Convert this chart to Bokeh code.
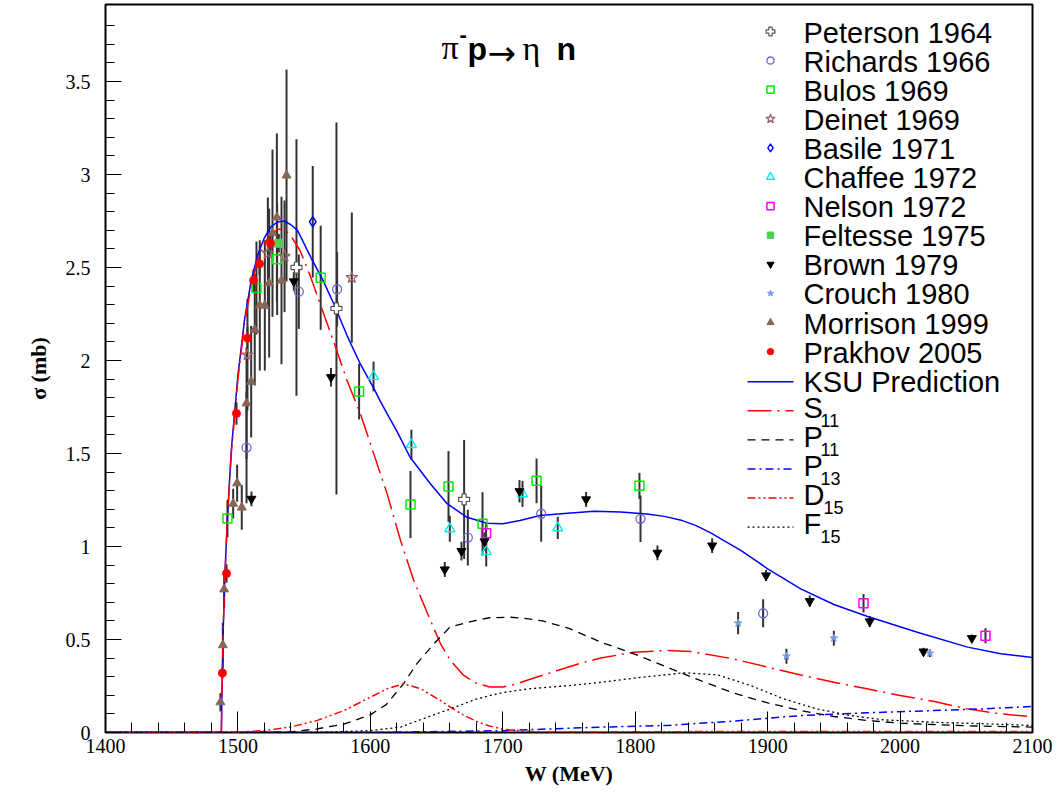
import numpy as np
from bokeh.plotting import figure
from bokeh.models import (Range1d, FixedTicker, Label, ColumnDataSource, CustomJSTickFormatter)
from bokeh.embed import file_html
from bokeh.resources import INLINE

# ---------------- data (W in MeV, sigma in mb, err in mb) ----------------
peterson_W = [1544.2, 1574.4, 1670.8]
peterson_S = [2.50, 2.28, 1.253]
peterson_E = [0.69, 1.00, 0.32]

richards_W = [1506.5, 1546.0, 1574.9, 1673.6, 1729.0, 1804.0, 1896.6]
richards_S = [1.532, 2.37, 2.383, 1.048, 1.176, 1.149, 0.641]
richards_E = [0.30, 0.20, 0.20, 0.15, 0.15, 0.125, 0.075]

bulos_W = [1492.1, 1514.0, 1529.6, 1562.5, 1591.5, 1630.3, 1659.0, 1684.7, 1725.5, 1803.2]
bulos_S = [1.15, 2.39, 2.545, 2.445, 1.833, 1.226, 1.323, 1.122, 1.353, 1.326]
bulos_E = [0.10, 0.25, 0.30, 0.28, 0.15, 0.18, 0.19, 0.17, 0.12, 0.07]

deinet_W = [1507.2, 1522.6, 1535.2, 1586.0]
deinet_S = [2.03, 2.577, 2.56, 2.446]
deinet_E = [0.30, 0.30, 0.30, 0.35]

basile_W = [1556.5]
basile_S = [2.746]
basile_E = [0.30]

chaffee_W = [1602.4, 1631.0, 1660.0, 1687.5, 1714.9, 1741.5]
chaffee_S = [1.914, 1.548, 1.095, 0.973, 1.283, 1.10]
chaffee_E = [0.08, 0.08, 0.07, 0.08, 0.07, 0.06]

nelson_W = [1687.4, 1972.4, 2064.5]
nelson_S = [1.071, 0.695, 0.52]
nelson_E = [0.05, 0.05, 0.04]

feltesse_W = [1530.9]
feltesse_S = [2.63]
feltesse_E = [0.05]

brown_W = [1510.2, 1542.2, 1570.3, 1656.2, 1668.8, 1686.2, 1712.6, 1762.9,
           1816.8, 1858.1, 1898.8, 1931.8, 1977.1, 2017.7, 2054.2]
brown_S = [1.256, 2.425, 1.91, 0.876, 0.975, 1.027, 1.297, 1.253,
           0.966, 1.005, 0.844, 0.706, 0.597, 0.435, 0.507]
brown_E = [0.04, 0.05, 0.05, 0.04, 0.05, 0.05, 0.06, 0.04,
           0.04, 0.04, 0.03, 0.03, 0.03, 0.02, 0.02]

crouch_W = [1877.7, 1914.2, 1950.0, 2022.5]
crouch_S = [0.588, 0.41, 0.507, 0.426]
crouch_E = [0.06, 0.04, 0.04, 0.02]

morrison_W = [1486.8, 1488.6, 1489.6, 1496.4, 1499.4, 1502.9, 1506.5, 1510.0,
              1512.7, 1516.5, 1520.3, 1523.6, 1526.1, 1529.4, 1532.9, 1536.7]
morrison_S = [0.163, 0.47, 0.77, 1.23, 1.34, 1.21, 1.77, 1.886,
              2.165, 2.296, 2.296, 2.416, 2.685, 2.77, 2.43, 2.995]
morrison_E = [0.05, 0.12, 0.10, 0.08, 0.10, 0.12, 0.30, 0.30,
              0.30, 0.35, 0.35, 0.40, 0.45, 0.45, 0.45, 0.57]

prakhov_W = [1488.3, 1491.4, 1498.9, 1507.2, 1511.8, 1516.3, 1524.6]
prakhov_S = [0.32, 0.855, 1.715, 2.12, 2.43, 2.52, 2.63]
prakhov_E = [0.03, 0.05, 0.06, 0.06, 0.06, 0.06, 0.06]

# ---------------- model curves ----------------
ksu_W = [1400, 1487.5, 1487.8, 1488.3, 1489, 1490, 1492, 1495, 1500, 1505, 1510, 1515,
         1520, 1525, 1530, 1535, 1540, 1545, 1555, 1563.6, 1572.4, 1582.4, 1592.5,
         1602.6, 1607.6, 1612.7, 1620, 1630, 1645, 1658, 1673, 1688, 1700, 1713,
         1728, 1749, 1769, 1789, 1809, 1822, 1834, 1846, 1857, 1868, 1880, 1890, 1900,
         1925, 1950, 1975, 2013, 2051, 2076, 2100]
ksu_S = [0, 0, 0.15, 0.33, 0.58, 0.82, 1.15, 1.52, 1.92, 2.22, 2.43, 2.57,
         2.66, 2.72, 2.745, 2.75, 2.73, 2.70, 2.555, 2.44, 2.305, 2.134, 1.98,
         1.85, 1.78, 1.713, 1.62, 1.48, 1.34, 1.23, 1.157, 1.125, 1.122, 1.14,
         1.167, 1.179, 1.19, 1.186, 1.175, 1.162, 1.143, 1.112, 1.073, 1.028, 0.978, 0.93,
         0.88, 0.772, 0.688, 0.625, 0.539, 0.459, 0.423, 0.403]

s11_W = [1400, 1487.5, 1487.8, 1488.3, 1489, 1490, 1492, 1495, 1500, 1505, 1510, 1515,
         1520, 1525, 1530, 1535, 1540, 1547, 1555, 1562, 1572, 1582, 1592.5, 1602.6,
         1612.7, 1622.8, 1632.8, 1645.4, 1653, 1660.5, 1670, 1680, 1690, 1700, 1710,
         1720, 1740, 1760, 1774, 1799, 1824, 1842, 1874, 1900, 1925, 1950, 1975,
         2000, 2025, 2051, 2076, 2100]
s11_S = [0, 0, 0.15, 0.33, 0.58, 0.81, 1.14, 1.50, 1.90, 2.20, 2.40, 2.54,
         2.63, 2.68, 2.705, 2.705, 2.67, 2.59, 2.448, 2.305, 2.108, 1.90, 1.713, 1.498,
         1.283, 1.032, 0.817, 0.602, 0.477, 0.387, 0.31, 0.265, 0.245, 0.245, 0.26,
         0.285, 0.33, 0.375, 0.40, 0.432, 0.441, 0.435, 0.396, 0.351, 0.309, 0.27, 0.235,
         0.199, 0.168, 0.127, 0.10, 0.085]

p11_W = [1400, 1500, 1540, 1560, 1580, 1600, 1612, 1625, 1635, 1648, 1660, 1675, 1690,
         1705, 1715, 1730, 1750, 1774, 1799, 1824, 1849, 1874, 1900, 1925, 1950, 1975,
         2000, 2025, 2051, 2100]
p11_S = [0, 0, 0.003, 0.02, 0.045, 0.095, 0.15, 0.262, 0.369, 0.477, 0.566, 0.595, 0.617,
         0.62, 0.615, 0.60, 0.56, 0.486, 0.423, 0.351, 0.28, 0.213, 0.159, 0.118, 0.086, 0.065,
         0.05, 0.043, 0.036, 0.029]

p13_W = [1400, 1600, 1700, 1774, 1824, 1874, 1925, 1975, 2025, 2063, 2100]
p13_S = [0, 0.0, 0.01, 0.029, 0.038, 0.061, 0.091, 0.106, 0.118, 0.127, 0.14]

d15_W = [1400, 1500, 1520, 1540, 1560, 1580, 1597.6, 1612.7, 1625, 1638, 1653, 1660.5,
         1670, 1680, 1690, 1700, 1715, 1730, 1760, 1800, 1900, 2000, 2100]
d15_S = [0, 0.002, 0.01, 0.03, 0.065, 0.118, 0.181, 0.235, 0.262, 0.235, 0.172, 0.136,
         0.095, 0.06, 0.035, 0.018, 0.007, 0.003, 0.002, 0.004, 0.006, 0.006, 0.005]

f15_W = [1400, 1560, 1600, 1622.8, 1642.9, 1660.5, 1680, 1700, 1720, 1750, 1774, 1799,
         1837, 1862, 1887, 1912, 1937, 1962.6, 1987.7, 2025.5, 2063, 2100]
f15_S = [0, 0.0, 0.01, 0.029, 0.082, 0.127, 0.18, 0.215, 0.235, 0.252, 0.27, 0.292,
         0.321, 0.31, 0.253, 0.181, 0.127, 0.091, 0.068, 0.055, 0.047, 0.038]

x_ticks = [1400, 1500, 1600, 1700, 1800, 1900, 2000, 2100]
y_ticks = [0, 0.5, 1.0, 1.5, 2.0, 2.5, 3.0, 3.5]

# ---------------- layout constants (pixels) ----------------
FL, FR, FT, FB = 105, 1032, 4, 732          # frame edges in page pixels
X0, X1, Y0, Y1 = 1400, 2100, 0.0, 3.914      # axis ranges


def W_of(px):
    return X0 + (px - FL) * (X1 - X0) / (FR - FL)


def S_of(py):
    return Y0 + (FB - py) * (Y1 - Y0) / (FB - FT)


# ---------------- figure ----------------
p = figure(width=1054, height=790, x_range=Range1d(X0, X1), y_range=Range1d(Y0, Y1),
           output_backend="svg", toolbar_location=None,
           min_border_left=FL, min_border_right=1054 - FR, min_border_top=FT,
           min_border_bottom=790 - FB)
p.xgrid.visible = False
p.ygrid.visible = False
p.outline_line_color = "black"
p.outline_line_width = 2
p.background_fill_color = "white"
p.border_fill_color = "white"

fmt = CustomJSTickFormatter(code="return String(tick);")
p.xaxis.ticker = FixedTicker(ticks=x_ticks, minor_ticks=list(np.arange(1400, 2101, 20)))
p.yaxis.ticker = FixedTicker(ticks=y_ticks, minor_ticks=list(np.round(np.arange(0, 3.9, 0.1), 2)))
p.xaxis.formatter = fmt
p.yaxis.formatter = fmt
for ax in (p.xaxis[0], p.yaxis[0]):
    ax.axis_line_color = None
    ax.major_tick_out = 0
    ax.minor_tick_out = 0
    ax.major_tick_line_color = "black"
    ax.minor_tick_line_color = "black"
    ax.major_label_text_font = "Liberation Serif"
    ax.major_label_text_font_size = "20px"
    ax.major_label_text_color = "black"
    ax.axis_label_text_font = "Liberation Serif"
    ax.axis_label_text_font_style = "bold"
    ax.axis_label_text_font_size = "22px"
    ax.axis_label_text_color = "black"
p.xaxis.major_tick_in = 21
p.xaxis.minor_tick_in = 10
p.yaxis.major_tick_in = 16
p.yaxis.minor_tick_in = 9
p.xaxis.major_label_standoff = 6
p.yaxis.major_label_standoff = 15
p.xaxis.axis_label = "W (MeV)"
p.yaxis.axis_label = "σ (mb)"
p.xaxis.axis_label_standoff = 5
p.yaxis.axis_label_standoff = 12

# ---------------- styles ----------------
curves = [
    ("KSU Prediction", "", ksu_W, ksu_S, "#0000ff", 1.5, "solid"),
    ("S", "11", s11_W, s11_S, "#ff0000", 1.5, "24 6 2 6"),
    ("P", "11", p11_W, p11_S, "black", 1.3, "8 6"),
    ("P", "13", p13_W, p13_S, "#0000ff", 1.5, "8 4 2 4"),
    ("D", "15", d15_W, d15_S, "#ff0000", 1.5, "8 3 2 3 2 3"),
    ("F", "15", f15_W, f15_S, "black", 1.3, "2 3"),
]

sets = [
    ("Peterson 1964", peterson_W, peterson_S, peterson_E, "plus", 11, "#555555", "white", 1.2),
    ("Richards 1966", richards_W, richards_S, richards_E, "circle", 9, "#6666dd", None, 1.3),
    ("Bulos 1969", bulos_W, bulos_S, bulos_E, "square", 9, "#00ee00", None, 1.5),
    ("Deinet 1969", deinet_W, deinet_S, deinet_E, "star", 12, "#996666", None, 1.3),
    ("Basile 1971", basile_W, basile_S, basile_E, "diamond", 10, "#0000ff", None, 1.4),
    ("Chaffee 1972", chaffee_W, chaffee_S, chaffee_E, "triangle", 10, "#00eeee", None, 1.4),
    ("Nelson 1972", nelson_W, nelson_S, nelson_E, "square", 9, "#ff00ff", None, 1.5),
    ("Feltesse 1975", feltesse_W, feltesse_S, feltesse_E, "square", 8, "#55cc55", "#55cc55", 1),
    ("Brown 1979", brown_W, brown_S, brown_E, "inverted_triangle", 9, "black", "black", 1),
    ("Crouch 1980", crouch_W, crouch_S, crouch_E, "star", 8, "#7799dd", "#7799dd", 1),
    ("Morrison 1999", morrison_W, morrison_S, morrison_E, "triangle", 9, "#886655", "#886655", 1),
    ("Prakhov 2005", prakhov_W, prakhov_S, prakhov_E, "circle", 8, "#ff0000", "#ff0000", 1),
]

# ---------------- error bars ----------------
for name, W, S, E, mk, sz, lc, fc, lw in sets:
    lo = [s - e for s, e in zip(S, E)]
    hi = [s + e for s, e in zip(S, E)]
    p.segment(x0=W, y0=lo, x1=W, y1=hi, line_color="#333333", line_width=2)

# ---------------- curves ----------------
for lab, sub, W, S, col, lw, dash in curves:
    p.line(W, S, line_color=col, line_width=lw, line_dash=dash)

# ---------------- data points ----------------
for name, W, S, E, mk, sz, lc, fc, lw in sets:
    src = ColumnDataSource(dict(x=W, y=S))
    p.scatter("x", "y", source=src, marker=mk, size=sz, line_color=lc,
              fill_color=fc, line_width=lw)

# ---------------- legend (drawn by hand, ROOT style) ----------------
ROW0, DROW = 32.0, 29.1
MK_X, LN_X0, LN_X1, TX_X, SUB_X = 770, 747, 793, 803, 820
LEG_FONT = "Liberation Sans"
k = 0
for name, W, S, E, mk, sz, lc, fc, lw in sets:
    yc = ROW0 + DROW * k
    p.scatter([W_of(MK_X)], [S_of(yc - 1)], marker=mk, size=sz * 0.8, line_color=lc,
              fill_color=fc, line_width=lw)
    p.add_layout(Label(x=W_of(TX_X), y=S_of(yc), text=name, text_font=LEG_FONT,
                       text_font_size="29px", text_baseline="middle", text_color="black"))
    k += 1
for lab, sub, W, S, col, lw, dash in curves:
    yc = ROW0 + DROW * k
    p.line([W_of(LN_X0), W_of(LN_X1)], [S_of(yc), S_of(yc)], line_color=col,
           line_width=lw, line_dash=dash)
    p.add_layout(Label(x=W_of(TX_X), y=S_of(yc - (3 if sub else 0)), text=lab,
                       text_font=LEG_FONT, text_font_size="29px", text_baseline="middle",
                       text_color="black"))
    if sub:
        p.add_layout(Label(x=W_of(SUB_X if lab != "D" else SUB_X + 3), y=S_of(yc + 9.5),
                           text=sub, text_font=LEG_FONT, text_font_size="18px",
                           text_baseline="middle", text_color="black"))
    k += 1

# ---------------- title: pi- p -> eta n ----------------
title_parts = [
    ("π", 441, 47, "Liberation Serif", "34px", "normal"),
    ("-", 459, 34, "Liberation Sans", "22px", "bold"),
    ("p", 467, 48, "Liberation Sans", "32px", "bold"),
    ("→", 487, 52, "DejaVu Sans", "34px", "normal"),
    ("η", 522, 48, "Liberation Serif", "34px", "normal"),
    ("n", 556, 48, "Liberation Sans", "32px", "bold"),
]
for t, px, py, f, fs, st in title_parts:
    p.add_layout(Label(x=W_of(px), y=S_of(py), text=t, text_font=f, text_font_size=fs,
                       text_font_style=st, text_baseline="alphabetic", text_color="black"))

open("out.html", "w").write(file_html(p, INLINE))
